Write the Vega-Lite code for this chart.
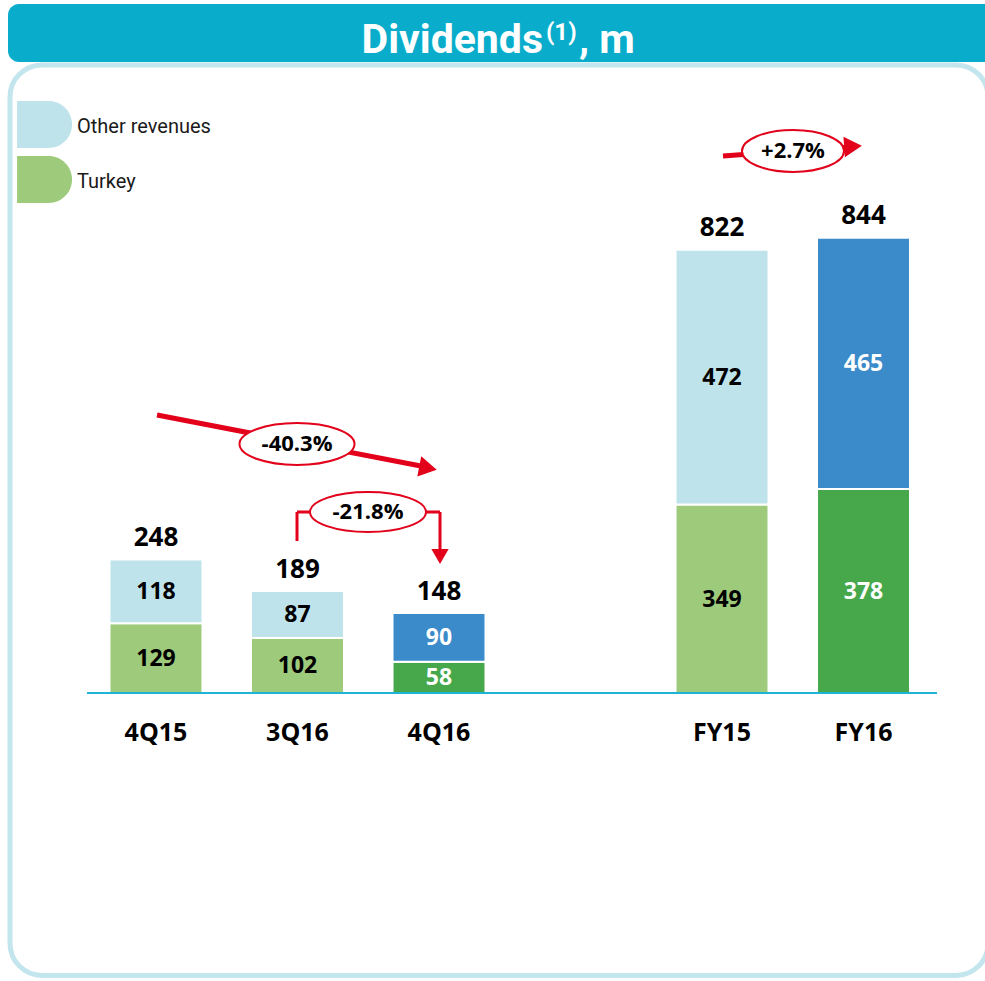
{
  "$schema": "https://vega.github.io/schema/vega-lite/v6.json",
  "width": 985,
  "height": 981,
  "padding": 0,
  "autosize": {"type": "none"},
  "background": "white",
  "config": {"view": {"stroke": null}, "text": {"font": "Open Sans"}},
  "datasets": {
    "bars": [
      {"period": "4Q15", "segment": "Turkey", "kind": "prior", "value": 129},
      {"period": "4Q15", "segment": "Other revenues", "kind": "prior", "value": 118},
      {"period": "3Q16", "segment": "Turkey", "kind": "prior", "value": 102},
      {"period": "3Q16", "segment": "Other revenues", "kind": "prior", "value": 87},
      {"period": "4Q16", "segment": "Turkey", "kind": "current", "value": 58},
      {"period": "4Q16", "segment": "Other revenues", "kind": "current", "value": 90},
      {"period": "FY15", "segment": "Turkey", "kind": "prior", "value": 349},
      {"period": "FY15", "segment": "Other revenues", "kind": "prior", "value": 472},
      {"period": "FY16", "segment": "Turkey", "kind": "current", "value": 378},
      {"period": "FY16", "segment": "Other revenues", "kind": "current", "value": 465}
    ],
    "totals": [
      {"period": "4Q15", "total": 248},
      {"period": "3Q16", "total": 189},
      {"period": "4Q16", "total": 148},
      {"period": "FY15", "total": 822},
      {"period": "FY16", "total": 844}
    ]
  },
  "resolve": {"scale": {"x": "independent"}},
  "layer": [
    {
      "data": {"values": [{}]},
      "mark": {"type": "rect", "fill": "#09ADCB", "cornerRadius": 11},
      "encoding": {
        "x": {"datum": -1.0459, "type": "quantitative", "scale": {"domain": [-1.1025, 5.8587], "nice": false, "zero": false}, "axis": null},
        "x2": {"datum": 6.2},
        "y": {"datum": 1275.9, "type": "quantitative", "scale": {"domain": [-533.3, 1283.3], "nice": false, "zero": false}, "axis": null},
        "y2": {"datum": 1168.5}
      }
    },
    {
      "data": {"values": [{}]},
      "mark": {"type": "rect", "fill": "white", "stroke": "#C3E5EE", "strokeWidth": 5, "cornerRadius": 32},
      "encoding": {
        "x": {"datum": -1.0318, "type": "quantitative", "scale": {"domain": [-1.1025, 5.8587], "nice": false, "zero": false}, "axis": null},
        "x2": {"datum": 5.88},
        "y": {"datum": 1163.0, "type": "quantitative", "scale": {"domain": [-533.3, 1283.3], "nice": false, "zero": false}, "axis": null},
        "y2": {"datum": -523.0}
      }
    },
    {
      "data": {"values": [{"t": "Dividends"}]},
      "mark": {"type": "text", "font": "Roboto", "fontWeight": "bold", "fontSize": 41, "color": "white", "align": "right", "baseline": "alphabetic"},
      "encoding": {
        "x": {"datum": 2.735, "type": "quantitative", "scale": {"domain": [-1.1025, 5.8587], "nice": false, "zero": false}, "axis": null},
        "y": {"datum": 1185.2, "type": "quantitative", "scale": {"domain": [-533.3, 1283.3], "nice": false, "zero": false}, "axis": null},
        "text": {"field": "t"}
      }
    },
    {
      "data": {"values": [{"t": "(1)"}]},
      "mark": {"type": "text", "font": "Roboto", "fontWeight": "bold", "fontSize": 24, "color": "white", "align": "left", "baseline": "alphabetic"},
      "encoding": {
        "x": {"datum": 2.756, "type": "quantitative", "scale": {"domain": [-1.1025, 5.8587], "nice": false, "zero": false}, "axis": null},
        "y": {"datum": 1209.3, "type": "quantitative", "scale": {"domain": [-533.3, 1283.3], "nice": false, "zero": false}, "axis": null},
        "text": {"field": "t"}
      }
    },
    {
      "data": {"values": [{"t": ", m"}]},
      "mark": {"type": "text", "font": "Roboto", "fontWeight": "bold", "fontSize": 41, "color": "white", "align": "left", "baseline": "alphabetic"},
      "encoding": {
        "x": {"datum": 2.99, "type": "quantitative", "scale": {"domain": [-1.1025, 5.8587], "nice": false, "zero": false}, "axis": null},
        "y": {"datum": 1185.2, "type": "quantitative", "scale": {"domain": [-533.3, 1283.3], "nice": false, "zero": false}, "axis": null},
        "text": {"field": "t"}
      }
    },
    {
      "data": {"values": [{}]},
      "mark": {"type": "rect", "fill": "#BEE3EB", "cornerRadiusTopRight": 24, "cornerRadiusBottomRight": 24},
      "encoding": {
        "x": {"datum": -0.982, "type": "quantitative", "scale": {"domain": [-1.1025, 5.8587], "nice": false, "zero": false}, "axis": null},
        "x2": {"datum": -0.5936},
        "y": {"datum": 1096.3, "type": "quantitative", "scale": {"domain": [-533.3, 1283.3], "nice": false, "zero": false}, "axis": null},
        "y2": {"datum": 1009.3}
      }
    },
    {
      "data": {"values": [{}]},
      "mark": {"type": "rect", "fill": "#9DCA7B", "cornerRadiusTopRight": 24, "cornerRadiusBottomRight": 24},
      "encoding": {
        "x": {"datum": -0.982, "type": "quantitative", "scale": {"domain": [-1.1025, 5.8587], "nice": false, "zero": false}, "axis": null},
        "x2": {"datum": -0.5936},
        "y": {"datum": 994.4, "type": "quantitative", "scale": {"domain": [-533.3, 1283.3], "nice": false, "zero": false}, "axis": null},
        "y2": {"datum": 907.4}
      }
    },
    {
      "data": {"values": [{"t": "Other revenues"}]},
      "mark": {"type": "text", "font": "Roboto", "fontSize": 20, "color": "#1a1a1a", "align": "left", "baseline": "alphabetic"},
      "encoding": {
        "x": {"datum": -0.5583, "type": "quantitative", "scale": {"domain": [-1.1025, 5.8587], "nice": false, "zero": false}, "axis": null},
        "y": {"datum": 1037.0, "type": "quantitative", "scale": {"domain": [-533.3, 1283.3], "nice": false, "zero": false}, "axis": null},
        "text": {"field": "t"}
      }
    },
    {
      "data": {"values": [{"t": "Turkey"}]},
      "mark": {"type": "text", "font": "Roboto", "fontSize": 20, "color": "#1a1a1a", "align": "left", "baseline": "alphabetic"},
      "encoding": {
        "x": {"datum": -0.5583, "type": "quantitative", "scale": {"domain": [-1.1025, 5.8587], "nice": false, "zero": false}, "axis": null},
        "y": {"datum": 935.2, "type": "quantitative", "scale": {"domain": [-533.3, 1283.3], "nice": false, "zero": false}, "axis": null},
        "text": {"field": "t"}
      }
    },
    {
      "data": {"name": "bars"},
      "transform": [
        {"stack": "value", "groupby": ["period"], "sort": [{"field": "segment", "order": "descending"}], "as": ["v0", "v1"]},
        {"calculate": "datum.segment + '|' + datum.kind", "as": "key"}
      ],
      "mark": {"type": "bar", "stroke": "white", "strokeWidth": 2},
      "encoding": {
        "x": {"field": "period", "type": "nominal", "scale": {"type": "band", "domain": ["4Q15", "3Q16", "4Q16", "gap", "FY15", "FY16"], "paddingInner": 0.343, "paddingOuter": 0.652, "align": 0.5935}, "axis": null},
        "y": {"field": "v0", "type": "quantitative", "scale": {"domain": [-533.3, 1283.3], "nice": false, "zero": false}, "axis": null},
        "y2": {"field": "v1"},
        "color": {"field": "key", "type": "nominal", "scale": {"domain": ["Turkey|prior", "Other revenues|prior", "Turkey|current", "Other revenues|current"], "range": ["#9DCA7B", "#BEE3EB", "#46A84B", "#3B8AC9"]}, "legend": null}
      }
    },
    {
      "data": {"values": [{}]},
      "mark": {"type": "rule", "color": "#1DB4D6", "strokeWidth": 2},
      "encoding": {
        "x": {"datum": -0.4876, "type": "quantitative", "scale": {"domain": [-1.1025, 5.8587], "nice": false, "zero": false}, "axis": null},
        "x2": {"datum": 5.5194},
        "y": {"datum": 0, "type": "quantitative", "scale": {"domain": [-533.3, 1283.3], "nice": false, "zero": false}, "axis": null}
      }
    },
    {
      "data": {"name": "bars"},
      "transform": [
        {"stack": "value", "groupby": ["period"], "sort": [{"field": "segment", "order": "descending"}], "as": ["v0", "v1"]},
        {"calculate": "(datum.v0 + datum.v1) / 2", "as": "mid"}
      ],
      "mark": {"type": "text", "fontWeight": "bold", "fontSize": 23, "baseline": "alphabetic", "dy": 8},
      "encoding": {
        "x": {"field": "period", "type": "nominal", "bandPosition": 0.5, "scale": {"type": "band", "domain": ["4Q15", "3Q16", "4Q16", "gap", "FY15", "FY16"], "paddingInner": 0.343, "paddingOuter": 0.652, "align": 0.5935}, "axis": null},
        "y": {"field": "mid", "type": "quantitative", "scale": {"domain": [-533.3, 1283.3], "nice": false, "zero": false}, "axis": null},
        "text": {"field": "value"},
        "color": {"condition": {"test": "datum.kind == 'current'", "value": "white"}, "value": "black"}
      }
    },
    {
      "data": {"name": "totals"},
      "mark": {"type": "text", "fontWeight": "bold", "fontSize": 26, "baseline": "alphabetic", "dy": -13, "color": "black"},
      "encoding": {
        "x": {"field": "period", "type": "nominal", "bandPosition": 0.5, "scale": {"type": "band", "domain": ["4Q15", "3Q16", "4Q16", "gap", "FY15", "FY16"], "paddingInner": 0.343, "paddingOuter": 0.652, "align": 0.5935}, "axis": null},
        "y": {"field": "total", "type": "quantitative", "scale": {"domain": [-533.3, 1283.3], "nice": false, "zero": false}, "axis": null},
        "text": {"field": "total"}
      }
    },
    {
      "data": {"name": "totals"},
      "mark": {"type": "text", "fontWeight": "bold", "fontSize": 25, "baseline": "alphabetic", "color": "black"},
      "encoding": {
        "x": {"field": "period", "type": "nominal", "bandPosition": 0.5, "scale": {"type": "band", "domain": ["4Q15", "3Q16", "4Q16", "gap", "FY15", "FY16"], "paddingInner": 0.343, "paddingOuter": 0.652, "align": 0.5935}, "axis": null},
        "y": {"datum": -88.9, "type": "quantitative", "scale": {"domain": [-533.3, 1283.3], "nice": false, "zero": false}, "axis": null},
        "text": {"field": "period"}
      }
    },
    {
      "data": {"values": [
        {"x": 0.0071, "y": 514.8, "x2": 1.9081, "y2": 418.5},
        {"x": 4.0071, "y": 994.4, "x2": 4.9046, "y2": 1011.1}
      ]},
      "mark": {"type": "rule", "color": "#E2001A", "strokeWidth": 5},
      "encoding": {
        "x": {"field": "x", "type": "quantitative", "scale": {"domain": [-1.1025, 5.8587], "nice": false, "zero": false}, "axis": null},
        "x2": {"field": "x2"},
        "y": {"field": "y", "type": "quantitative", "scale": {"domain": [-533.3, 1283.3], "nice": false, "zero": false}, "axis": null},
        "y2": {"field": "y2"}
      }
    },
    {
      "data": {"values": [
        {"x": 0.9965, "y": 281.5, "x2": 0.9965, "y2": 335.2},
        {"x": 0.9965, "y": 335.2, "x2": 2.0071, "y2": 335.2},
        {"x": 2.0071, "y": 335.2, "x2": 2.0071, "y2": 261.1}
      ]},
      "mark": {"type": "rule", "color": "#E2001A", "strokeWidth": 3},
      "encoding": {
        "x": {"field": "x", "type": "quantitative", "scale": {"domain": [-1.1025, 5.8587], "nice": false, "zero": false}, "axis": null},
        "x2": {"field": "x2"},
        "y": {"field": "y", "type": "quantitative", "scale": {"domain": [-533.3, 1283.3], "nice": false, "zero": false}, "axis": null},
        "y2": {"field": "y2"}
      }
    },
    {
      "data": {"values": [{}]},
      "mark": {"type": "point", "shape": "triangle-right", "filled": true, "color": "#E2001A", "opacity": 1, "size": 420, "angle": 11},
      "encoding": {
        "x": {"datum": 1.9223, "type": "quantitative", "scale": {"domain": [-1.1025, 5.8587], "nice": false, "zero": false}, "axis": null},
        "y": {"datum": 416.5, "type": "quantitative", "scale": {"domain": [-533.3, 1283.3], "nice": false, "zero": false}, "axis": null}
      }
    },
    {
      "data": {"values": [{}]},
      "mark": {"type": "point", "shape": "triangle-right", "filled": true, "color": "#E2001A", "opacity": 1, "size": 420, "angle": -4},
      "encoding": {
        "x": {"datum": 4.9258, "type": "quantitative", "scale": {"domain": [-1.1025, 5.8587], "nice": false, "zero": false}, "axis": null},
        "y": {"datum": 1012.4, "type": "quantitative", "scale": {"domain": [-533.3, 1283.3], "nice": false, "zero": false}, "axis": null}
      }
    },
    {
      "data": {"values": [{}]},
      "mark": {"type": "point", "shape": "triangle-down", "filled": true, "color": "#E2001A", "opacity": 1, "size": 300},
      "encoding": {
        "x": {"datum": 2.0071, "type": "quantitative", "scale": {"domain": [-1.1025, 5.8587], "nice": false, "zero": false}, "axis": null},
        "y": {"datum": 252.8, "type": "quantitative", "scale": {"domain": [-533.3, 1283.3], "nice": false, "zero": false}, "axis": null}
      }
    },
    {
      "data": {"values": [{}]},
      "mark": {"type": "point", "shape": "M-1,0C-1,-0.2,-0.552,-0.365,0,-0.365C0.552,-0.365,1,-0.2,1,0C1,0.2,0.552,0.365,0,0.365C-0.552,0.365,-1,0.2,-1,0Z", "filled": true, "fill": "white", "stroke": "#E2001A", "strokeWidth": 2, "opacity": 1, "size": 13225},
      "encoding": {
        "x": {"datum": 0.9965, "type": "quantitative", "scale": {"domain": [-1.1025, 5.8587], "nice": false, "zero": false}, "axis": null},
        "y": {"datum": 461.1, "type": "quantitative", "scale": {"domain": [-533.3, 1283.3], "nice": false, "zero": false}, "axis": null}
      }
    },
    {
      "data": {"values": [{}]},
      "mark": {"type": "point", "shape": "M-1,0C-1,-0.19,-0.552,-0.345,0,-0.345C0.552,-0.345,1,-0.19,1,0C1,0.19,0.552,0.345,0,0.345C-0.552,0.345,-1,0.19,-1,0Z", "filled": true, "fill": "white", "stroke": "#E2001A", "strokeWidth": 2, "opacity": 1, "size": 13456},
      "encoding": {
        "x": {"datum": 1.4982, "type": "quantitative", "scale": {"domain": [-1.1025, 5.8587], "nice": false, "zero": false}, "axis": null},
        "y": {"datum": 335.2, "type": "quantitative", "scale": {"domain": [-533.3, 1283.3], "nice": false, "zero": false}, "axis": null}
      }
    },
    {
      "data": {"values": [{}]},
      "mark": {"type": "point", "shape": "M-1,0C-1,-0.226,-0.552,-0.41,0,-0.41C0.552,-0.41,1,-0.226,1,0C1,0.226,0.552,0.41,0,0.41C-0.552,0.41,-1,0.226,-1,0Z", "filled": true, "fill": "white", "stroke": "#E2001A", "strokeWidth": 2, "opacity": 1, "size": 10404},
      "encoding": {
        "x": {"datum": 4.5018, "type": "quantitative", "scale": {"domain": [-1.1025, 5.8587], "nice": false, "zero": false}, "axis": null},
        "y": {"datum": 1003.7, "type": "quantitative", "scale": {"domain": [-533.3, 1283.3], "nice": false, "zero": false}, "axis": null}
      }
    },
    {
      "data": {"values": [
        {"x": 0.9965, "y": 461.1, "t": "-40.3%"},
        {"x": 1.4982, "y": 335.2, "t": "-21.8%"},
        {"x": 4.5018, "y": 1003.7, "t": "+2.7%"}
      ]},
      "mark": {"type": "text", "fontWeight": "bold", "fontSize": 22, "baseline": "middle", "color": "black"},
      "encoding": {
        "x": {"field": "x", "type": "quantitative", "scale": {"domain": [-1.1025, 5.8587], "nice": false, "zero": false}, "axis": null},
        "y": {"field": "y", "type": "quantitative", "scale": {"domain": [-533.3, 1283.3], "nice": false, "zero": false}, "axis": null},
        "text": {"field": "t"}
      }
    }
  ]
}
